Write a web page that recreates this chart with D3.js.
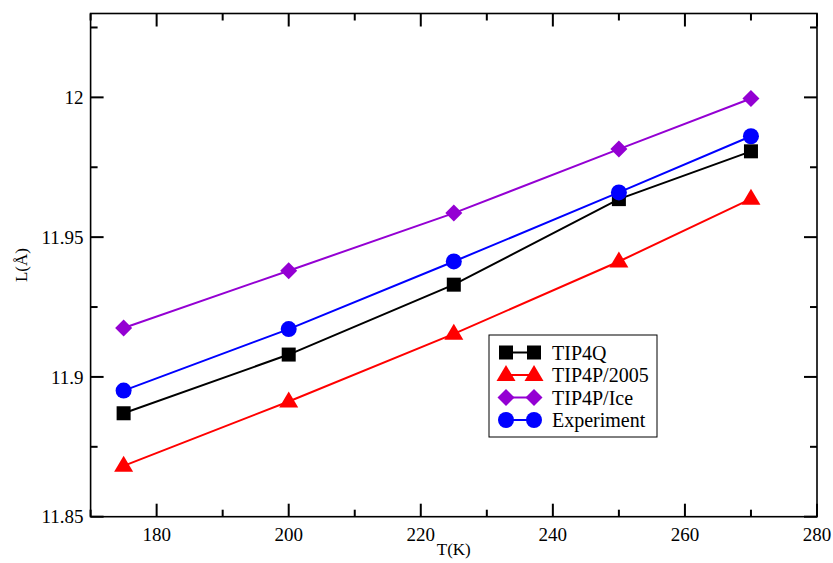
<!DOCTYPE html>
<html lang="en">
<head>
<meta charset="UTF-8" />
<title>L vs T</title>
<script src="https://d3js.org/d3.v7.min.js"></script>
<style>
  body { margin: 0; background: #fff; }
  text { font-family: "Liberation Serif", "DejaVu Serif", serif; fill: #000; }
  .series { fill: none; stroke-width: 2px; }
</style>
</head>
<body>
<script>
  // temperatures (K)
  const temps = [175, 200, 225, 250, 270];
  // box length L (Å) for each model
  const tip4q    = [11.887, 11.908, 11.933, 11.9636, 11.9807];
  const tip4p05  = [11.8682, 11.8912, 11.9154, 11.9413, 11.9637];
  const tip4pIce = [11.9175, 11.938, 11.9586, 11.9815, 11.9996];
  const expt     = [11.8951, 11.9171, 11.9413, 11.966, 11.9861];

  const seriesNames  = ["TIP4Q", "TIP4P/2005", "TIP4P/Ice", "Experiment"];
  const seriesColors = ["#000000", "#ff0000", "#9400d3", "#0000ff"];
  const seriesShapes = ["square", "triangle", "diamond", "circle"];
  const seriesValues = [tip4q, tip4p05, tip4pIce, expt];

  const xMajor = [180, 200, 220, 240, 260, 280];
  const yMajor = [11.85, 11.9, 11.95, 12];

  const W = 833, H = 563;
  const margin = { top: 13.5, right: 16, bottom: 46.3, left: 90.6 };
  const width = W - margin.left - margin.right,
        height = H - margin.top - margin.bottom;

  const svg = d3.select("body").append("svg")
      .attr("width", W).attr("height", H);
  const g = svg.append("g")
      .attr("transform", `translate(${margin.left},${margin.top})`);

  const x = d3.scaleLinear().domain([170, 280]).range([0, width]);
  const y = d3.scaleLinear().domain([11.85, 12.03]).range([height, 0]);

  const xMinor = d3.range(170, 281, 10).filter(v => !xMajor.includes(v));
  const yMinor = d3.range(0, 8).map(i => +(11.875 + i * 0.05).toFixed(3)).filter(v => v < 12.03);

  // frame
  g.append("rect").attr("width", width).attr("height", height)
    .attr("fill", "none").attr("stroke", "#000").attr("stroke-width", 1.6);

  // ticks (inward, all four sides)
  const tk = g.append("g").attr("stroke", "#000").attr("stroke-width", 2);
  const major = 13, minor = 7;
  xMajor.forEach(v => {
    tk.append("line").attr("x1", x(v)).attr("x2", x(v)).attr("y1", height).attr("y2", height - major);
    tk.append("line").attr("x1", x(v)).attr("x2", x(v)).attr("y1", 0).attr("y2", major);
  });
  xMinor.forEach(v => {
    tk.append("line").attr("x1", x(v)).attr("x2", x(v)).attr("y1", height).attr("y2", height - minor);
    tk.append("line").attr("x1", x(v)).attr("x2", x(v)).attr("y1", 0).attr("y2", minor);
  });
  yMajor.forEach(v => {
    tk.append("line").attr("y1", y(v)).attr("y2", y(v)).attr("x1", 0).attr("x2", major);
    tk.append("line").attr("y1", y(v)).attr("y2", y(v)).attr("x1", width).attr("x2", width - major);
  });
  yMinor.forEach(v => {
    tk.append("line").attr("y1", y(v)).attr("y2", y(v)).attr("x1", 0).attr("x2", minor);
    tk.append("line").attr("y1", y(v)).attr("y2", y(v)).attr("x1", width).attr("x2", width - minor);
  });

  // tick labels
  g.selectAll(".xl").data(xMajor).enter().append("text")
    .attr("x", d => x(d)).attr("y", height + 24)
    .attr("text-anchor", "middle").attr("font-size", 19)
    .text(d => d);
  g.selectAll(".yl").data(yMajor).enter().append("text")
    .attr("x", -7).attr("y", d => y(d)).attr("dy", "0.35em")
    .attr("text-anchor", "end").attr("font-size", 19)
    .text(d => d);

  // axis titles
  svg.append("text").attr("x", margin.left + x(225)).attr("y", 555)
    .attr("text-anchor", "middle").attr("font-size", 17).text("T(K)");
  svg.append("text")
    .attr("transform", `translate(27,${margin.top + y(11.94)}) rotate(-90)`)
    .attr("text-anchor", "middle").attr("font-size", 17).text("L(Å)");

  function marker(sel, shape, color) {
    if (shape === "square") {
      sel.append("rect").attr("x", -7).attr("y", -7).attr("width", 14).attr("height", 14).attr("fill", color);
    } else if (shape === "circle") {
      sel.append("circle").attr("r", 8).attr("fill", color);
    } else if (shape === "diamond") {
      sel.append("path").attr("d", "M0,-8.5L8.5,0L0,8.5L-8.5,0Z").attr("fill", color);
    } else {
      sel.append("path").attr("d", "M0,-10L9.5,6L-9.5,6Z").attr("fill", color);
    }
  }

  const line = d3.line().x((d, i) => x(temps[i])).y(d => y(d));

  seriesValues.forEach((vals, k) => {
    g.append("path").datum(vals).attr("class", "series")
      .attr("stroke", seriesColors[k]).attr("d", line);
    vals.forEach((v, i) => {
      const m = g.append("g").attr("transform", `translate(${x(temps[i])},${y(v)})`);
      marker(m, seriesShapes[k], seriesColors[k]);
    });
  });

  // legend
  const lg = svg.append("g").attr("transform", "translate(489,335)");
  lg.append("rect").attr("width", 168).attr("height", 102)
    .attr("fill", "#fff").attr("stroke", "#000").attr("stroke-width", 1);
  seriesNames.forEach((name, k) => {
    const yy = 17.5 + k * 22.5;
    lg.append("line").attr("x1", 17).attr("x2", 45).attr("y1", yy).attr("y2", yy)
      .attr("stroke", seriesColors[k]).attr("stroke-width", 2);
    [17, 45].forEach(xx => {
      const m = lg.append("g").attr("transform", `translate(${xx},${yy})`);
      marker(m, seriesShapes[k], seriesColors[k]);
    });
    lg.append("text").attr("x", 63).attr("y", yy).attr("dy", "0.35em")
      .attr("font-size", 20).text(name);
  });
</script>
</body>
</html>
